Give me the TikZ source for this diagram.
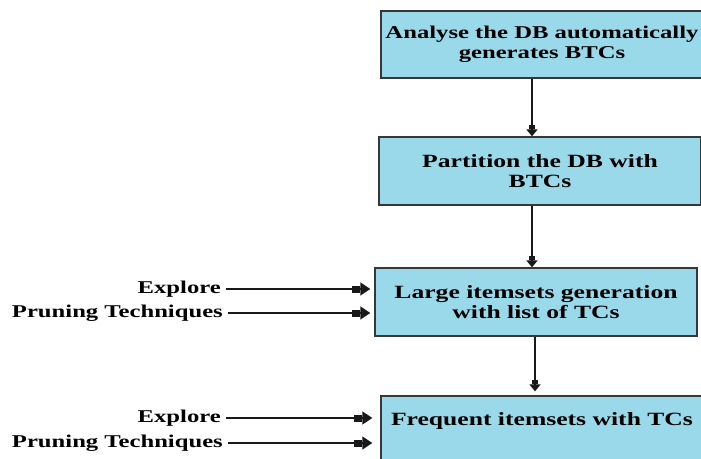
\documentclass[tikz,border=0pt]{standalone}
\usepackage{fontspec}
\setmainfont{Liberation Serif}[FakeStretch=1.37]
\usetikzlibrary{calc,positioning,arrows.meta}
\definecolor{boxc}{RGB}{153,217,234}
\definecolor{edgec}{RGB}{55,55,55}
\tikzset{
  stage/.style={rectangle,draw=edgec,fill=boxc,line width=1.3pt,minimum width=322pt,inner sep=0pt,align=center,font=\bfseries\fontsize{18.7}{20}\selectfont},
  feed/.style={anchor=east,inner xsep=5pt,inner ysep=0pt,font=\bfseries\fontsize{18}{19.5}\selectfont},
  flow/.style={-{Rectangle[length=4pt,width=6pt]Triangle[length=7pt,width=11pt]},line width=1.2pt,black!90},
  side/.style={-{Rectangle[length=8pt,width=7pt]Triangle[length=10pt,width=13pt]},line width=1.3pt,black!90},
}
\begin{document}
\begin{tikzpicture}[x=1pt,y=-1pt]
  \useasboundingbox (0,0) rectangle (701,458);
  \clip (0,0) rectangle (701,458);
  \node[stage,minimum height=67pt,font=\bfseries\fontsize{18}{20}\selectfont](analyse) at (542,44.5){Analyse the DB automatically\\generates BTCs};
  \node[stage,minimum height=68pt](partition) at (540,171){Partition the DB with\\BTCs};
  \node[stage,minimum height=68pt](large) at (536,302){Large itemsets generation\\with list of TCs};
  \node[stage,minimum height=67pt](frequent) at (542,429.5){Frequent itemsets with TCs\\\mbox{}};
  % inputs on the left
  \node[feed](explore1) at (226,289){Explore};
  \node[feed](prune1) at (228,313){Pruning Techniques};
  \node[feed](explore2) at (226,418){Explore};
  \node[feed](prune2) at (228,443){Pruning Techniques};
  \draw[flow] ([xshift=-10pt]analyse.south) -- ([xshift=-10pt]analyse.south |- partition.north);
  \draw[flow] ([xshift=-8pt]partition.south) -- ([xshift=-8pt]partition.south |- large.north);
  \draw[flow,shorten >=4pt] ([xshift=-1pt]large.south) -- ([xshift=-1pt]large.south |- frequent.north);
  \draw[side,shorten >=4pt] (explore1) -- (explore1 -| large.west);
  \draw[side,shorten >=4pt] (prune1) -- (prune1 -| large.west);
  \draw[side,shorten >=8pt] (explore2) -- (explore2 -| frequent.west);
  \draw[side,shorten >=8pt] (prune2) -- (prune2 -| frequent.west);
\end{tikzpicture}
\end{document}
